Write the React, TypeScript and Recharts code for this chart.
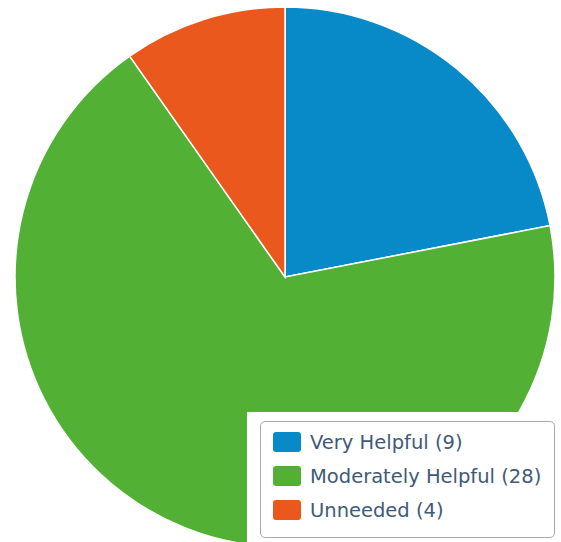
import React from "react";
import { PieChart, Pie, Cell, Legend } from "recharts";

const categories = ["Very Helpful", "Moderately Helpful", "Unneeded"];
const counts = [9, 28, 4];
const colors = ["#088ac9", "#52b135", "#eb581e"];

const data = categories.map((name, i) => ({ name, value: counts[i] }));

const renderLegend = (props: any) => {
  const payload = [...(props.payload || [])].sort(
    (a: any, b: any) => categories.indexOf(a.value) - categories.indexOf(b.value)
  );
  return (
    <div
      style={{
        width: 314,
        height: 130,
        background: "#ffffff",
        paddingTop: 9,
        paddingLeft: 13,
        boxSizing: "border-box",
      }}
    >
      <div
        style={{
          width: 295,
          height: 117,
          border: "1px solid #a9a9a9",
          borderRadius: 5,
          boxSizing: "border-box",
          paddingTop: 3,
          paddingLeft: 12,
        }}
      >
        {payload.map((entry: any, i: number) => (
          <div
            key={i}
            style={{ display: "flex", alignItems: "center", height: 34 }}
          >
            <span
              style={{
                display: "inline-block",
                width: 28,
                height: 20,
                borderRadius: 3,
                background: entry.color,
                marginRight: 9,
                flexShrink: 0,
              }}
            />
            <span
              style={{
                fontFamily: "'DejaVu Sans', sans-serif",
                fontSize: 19.5,
                color: "#3f5a77",
                whiteSpace: "nowrap",
              }}
            >
              {entry.value} ({counts[categories.indexOf(entry.value)]})
            </span>
          </div>
        ))}
      </div>
    </div>
  );
};

export default function App() {
  return (
    <div style={{ position: "absolute", left: 0, top: 0, width: 561, height: 542, overflow: "hidden", background: "#fff" }}>
      <PieChart width={561} height={542} margin={{ top: 0, right: 0, bottom: 0, left: 0 }}>
        <Pie
          data={data}
          dataKey="value"
          nameKey="name"
          cx={285}
          cy={277}
          outerRadius={270}
          startAngle={90}
          endAngle={-270}
          stroke="#ffffff"
          strokeWidth={1.5}
          isAnimationActive={false}
          legendType="square"
        >
          {data.map((d, i) => (
            <Cell key={d.name} fill={colors[i]} />
          ))}
        </Pie>
        <Legend
          content={renderLegend}
          layout="vertical"
          wrapperStyle={{ position: "absolute", left: 247, top: 412, width: 314, height: 130 }}
        />
      </PieChart>
    </div>
  );
}
